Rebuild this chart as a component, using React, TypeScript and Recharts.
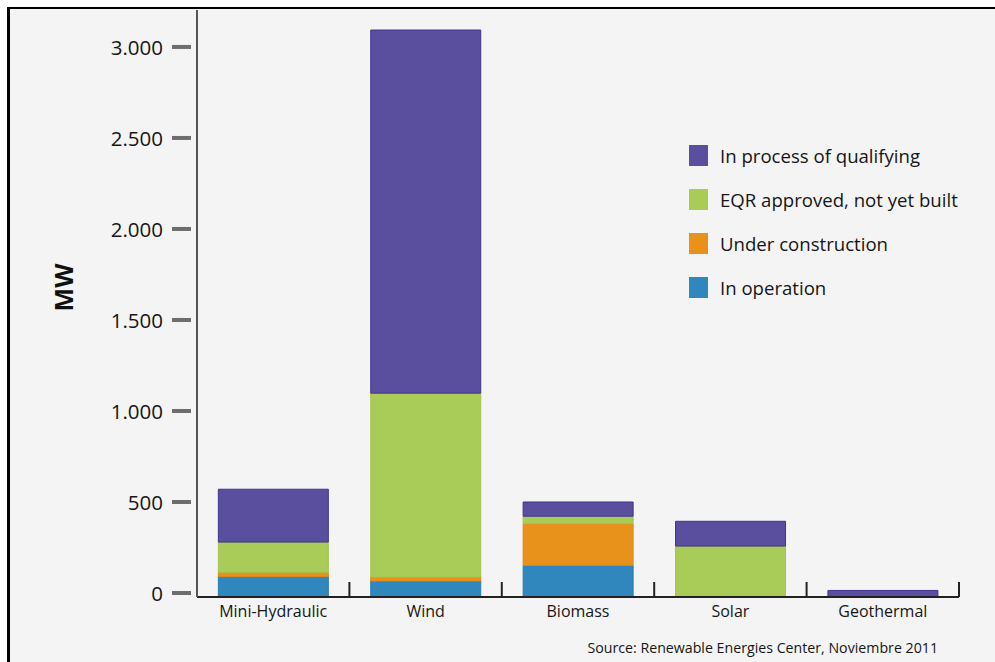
import { BarChart, Bar, XAxis, YAxis, Label } from 'recharts';

// MW by technology and project status
const categories = ['Mini-Hydraulic', 'Wind', 'Biomass', 'Solar', 'Geothermal'];
const inOperation = [112, 88, 174, 0, 0];
const underConstruction = [24, 22, 229, 0, 0];
const eqrApproved = [166, 1010, 41, 280, 0];
const qualifying = [290, 1995, 78, 136, 36];
const yTicks = [0, 500, 1000, 1500, 2000, 2500, 3000];

const seriesInfo = [
  { key: 'operation', name: 'In operation', color: '#2f87bd', edge: '#2a7db0' },
  { key: 'construction', name: 'Under construction', color: '#e8921c', edge: '#e08a18' },
  { key: 'approved', name: 'EQR approved, not yet built', color: '#a9cb57', edge: '#a2c452' },
  { key: 'qualifying', name: 'In process of qualifying', color: '#5a4e9e', edge: '#3f3590' },
];

const chartData = categories.map((name, i) => ({
  name,
  operation: inOperation[i],
  construction: underConstruction[i],
  approved: eqrApproved[i],
  qualifying: qualifying[i],
}));

const FONT = '"Open Sans", "Noto Sans", sans-serif';
const TEXT = '#161616';
const CHART_W = 995;
const CHART_H = 662;
const Y_AXIS_W = 197;
const RIGHT = 36;
const PLOT_W = CHART_W - Y_AXIS_W - RIGHT;

const formatThousands = (v: number) => v.toString().replace(/\B(?=(\d{3})+(?!\d))/g, '.');

function YTick(props: any) {
  const { x, y, payload } = props;
  const ty = y - 4;
  return (
    <g>
      <rect x={x - 25} y={ty - 2} width={19} height={4} fill="#6d6d6d" />
      <text
        x={x - 34}
        y={ty}
        textAnchor="end"
        dominantBaseline="central"
        fontFamily={FONT}
        fontSize={20.5}
        fill={TEXT}
      >
        {formatThousands(payload.value)}
      </text>
    </g>
  );
}

function XTick(props: any) {
  const { x, y, payload } = props;
  const band = PLOT_W / categories.length;
  return (
    <g>
      <line x1={x + band / 2} x2={x + band / 2} y1={y} y2={y - 15} stroke="#222" strokeWidth={2} />
      <text x={x} y={y + 20} textAnchor="middle" fontFamily={FONT} fontSize={16} fill={TEXT}>
        {payload.value}
      </text>
    </g>
  );
}

function UnitLabel(props: any) {
  const { viewBox } = props;
  const cx = viewBox.x + 63;
  const cy = viewBox.y + viewBox.height / 2 - 16;
  return (
    <text
      x={cx}
      y={cy}
      transform={`rotate(-90, ${cx}, ${cy})`}
      textAnchor="middle"
      dominantBaseline="central"
      fontFamily={FONT}
      fontSize={25}
      fontWeight={700}
      fill="#111"
    >
      MW
    </text>
  );
}

// legend lists the stack top-down
function StatusLegend() {
  const items = [...seriesInfo].reverse();
  return (
    <div style={{ position: 'absolute', left: 689, top: 133, fontFamily: FONT }}>
      {items.map((item) => (
        <div key={item.key} style={{ display: 'flex', alignItems: 'center', height: 44 }}>
          <span
            style={{
              display: 'inline-block',
              width: 19,
              height: 21,
              background: item.color,
              marginRight: 12,
            }}
          />
          <span style={{ fontSize: 18.6, color: TEXT }}>{item.name}</span>
        </div>
      ))}
    </div>
  );
}

export default function App() {
  return (
    <div style={{ position: 'absolute', left: 0, top: 0, width: CHART_W, height: CHART_H, background: '#fff' }}>
      <div
        style={{
          position: 'absolute',
          left: 7,
          top: 7,
          right: 0,
          bottom: 0,
          background: '#f4f4f4',
          borderTop: '2px solid #000',
          borderLeft: '3px solid #000',
        }}
      />
      <div style={{ position: 'absolute', left: 0, top: 0 }}>
        <BarChart
          width={CHART_W}
          height={CHART_H}
          data={chartData}
          margin={{ top: 10, right: RIGHT, bottom: 0, left: 0 }}
          barCategoryGap="14%"
        >
          <XAxis
            dataKey="name"
            height={65}
            axisLine={{ stroke: '#222', strokeWidth: 2 }}
            tickLine={false}
            tickSize={0}
            tickMargin={0}
            tick={<XTick />}
            interval={0}
          />
          <YAxis
            width={Y_AXIS_W}
            domain={[0, 3225]}
            ticks={yTicks}
            axisLine={{ stroke: '#555', strokeWidth: 2 }}
            tickLine={false}
            tickSize={0}
            tickMargin={0}
            tick={<YTick />}
          >
            <Label content={<UnitLabel />} />
          </YAxis>
          {seriesInfo.map((s) => (
            <Bar
              key={s.key}
              dataKey={s.key}
              name={s.name}
              stackId="mw"
              fill={s.color}
              stroke={s.edge}
              strokeWidth={1}
              isAnimationActive={false}
            />
          ))}
        </BarChart>
      </div>
      <StatusLegend />
      <div
        style={{
          position: 'absolute',
          right: 57,
          top: 638,
          fontFamily: FONT,
          fontSize: 14.2,
          color: TEXT,
        }}
      >
        Source: Renewable Energies Center, Noviembre 2011
      </div>
    </div>
  );
}
